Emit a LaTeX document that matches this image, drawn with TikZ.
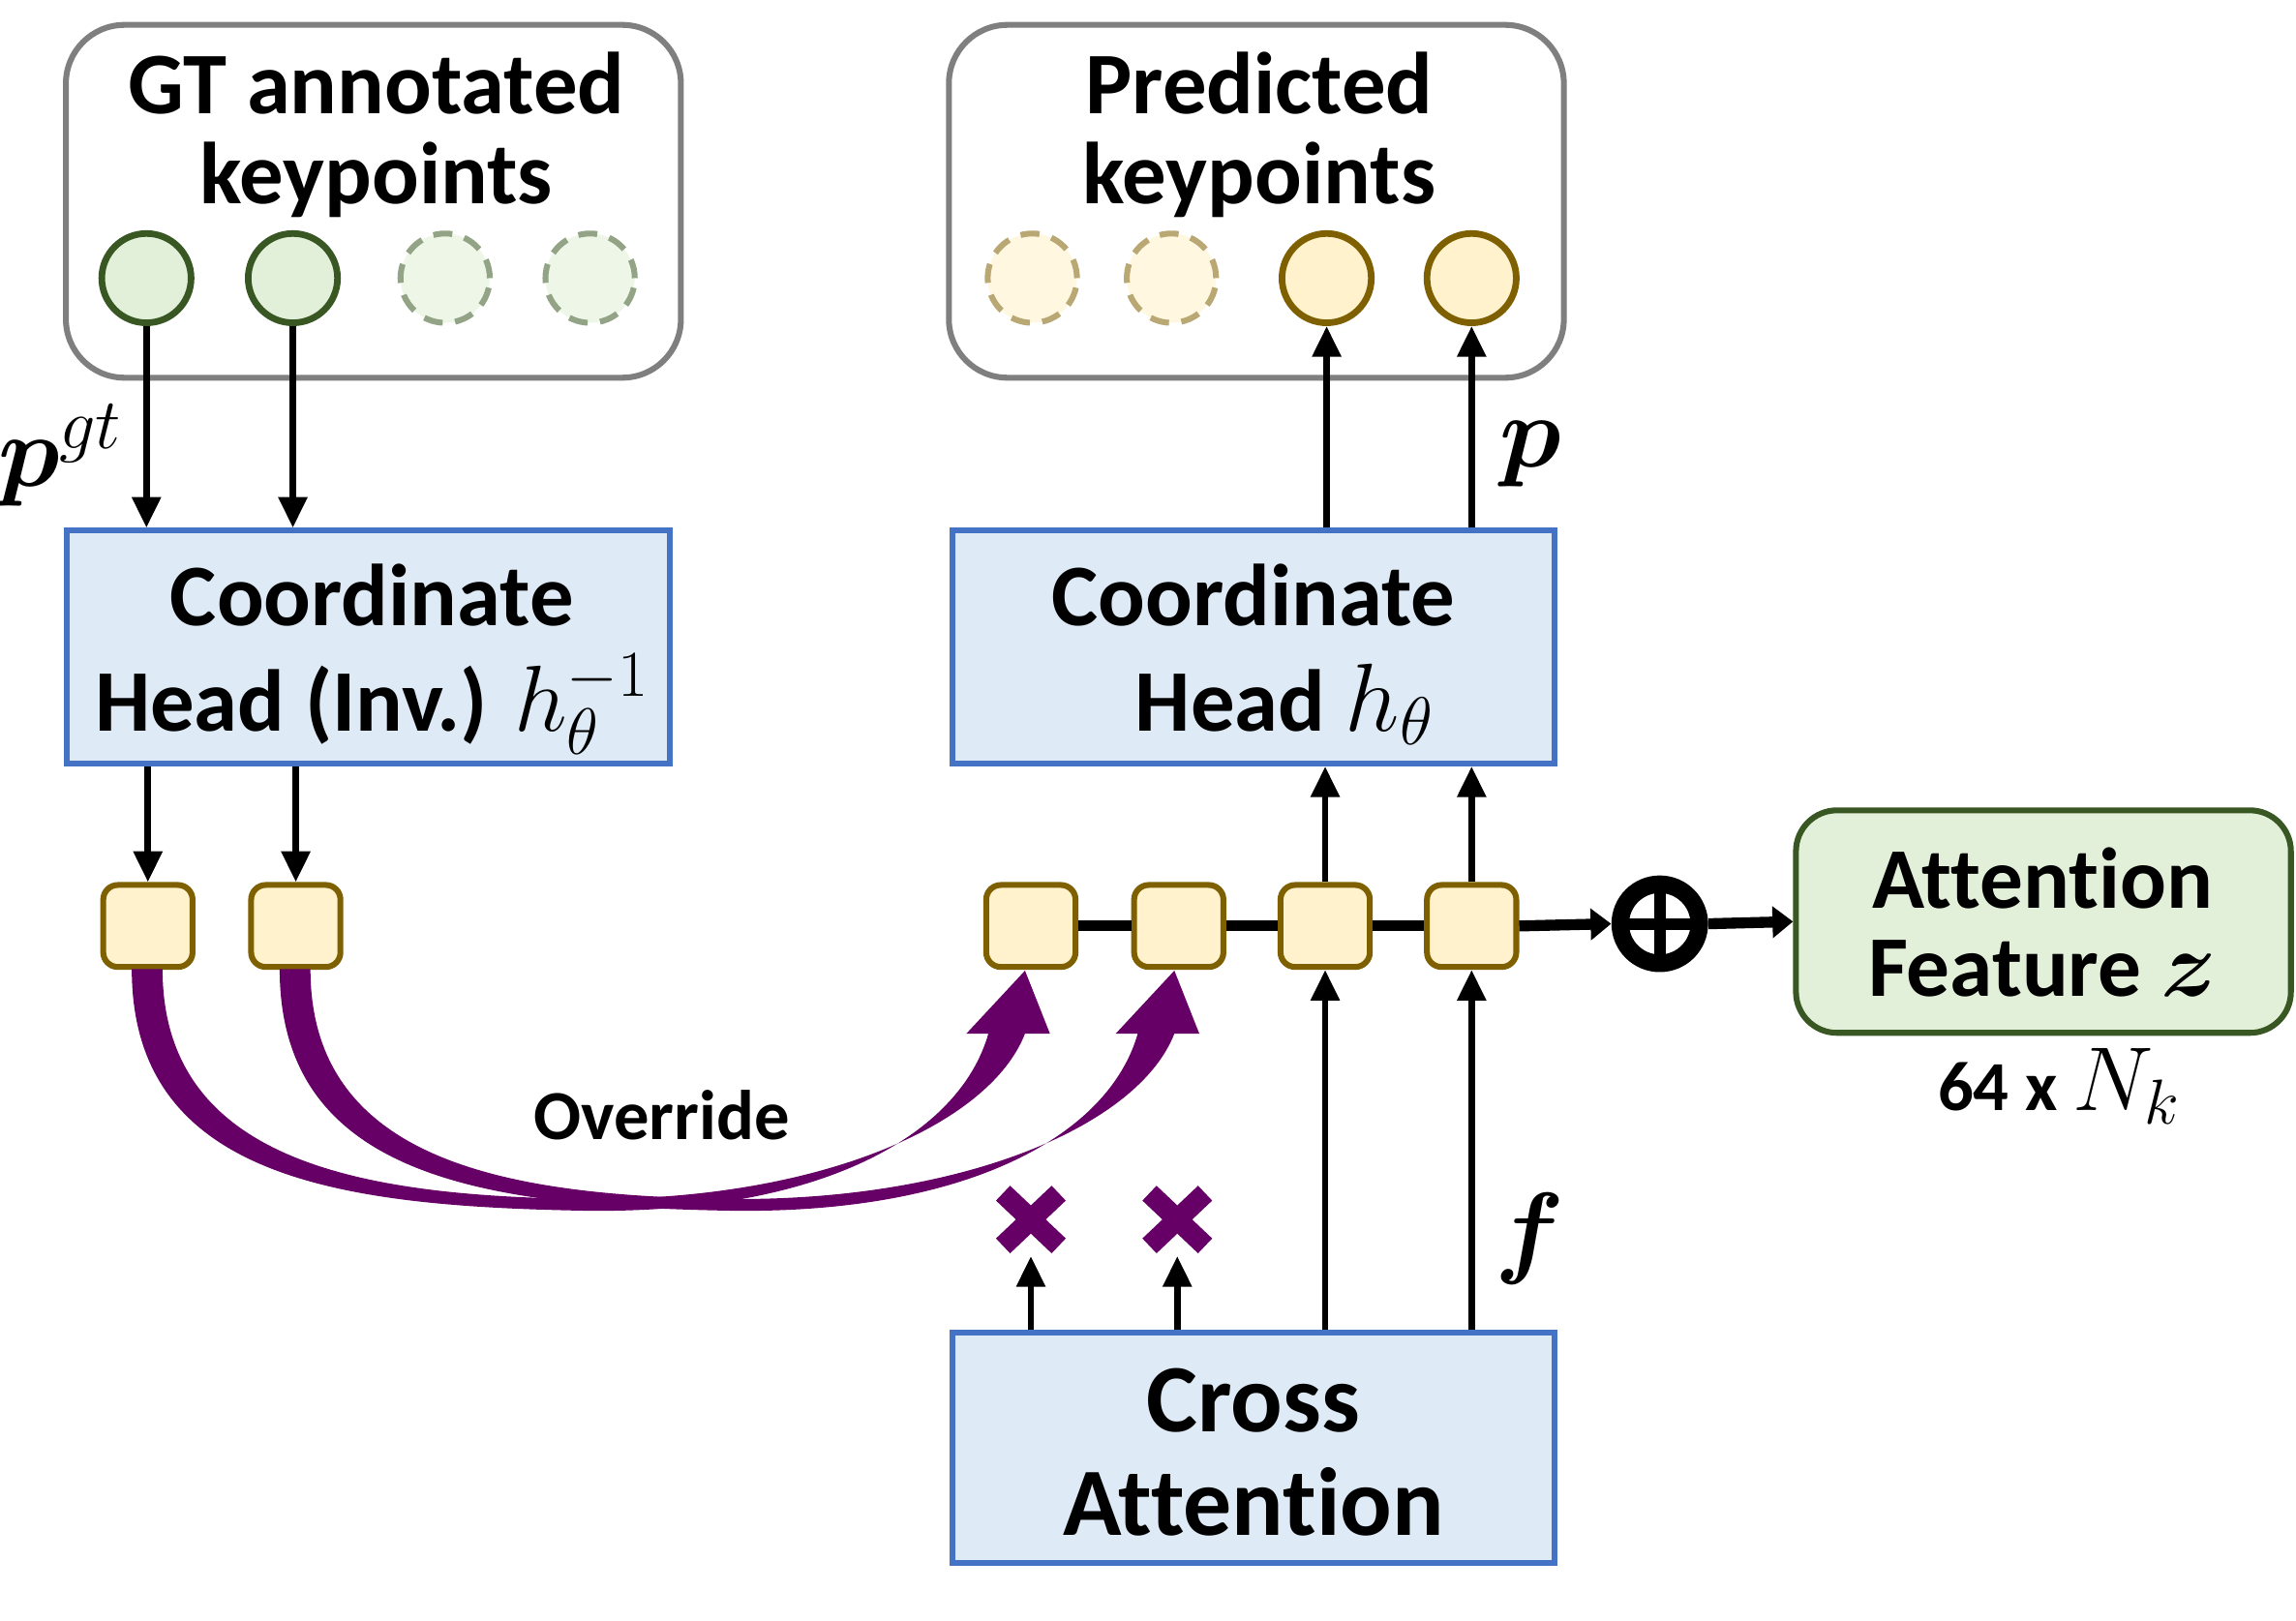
\RequirePackage{fix-cm}
\documentclass[tikz,border=0pt]{standalone}
\usepackage{amsmath,bm}
\usepackage{fontspec}
\setmainfont{Carlito}[Ligatures=NoCommon]
\usetikzlibrary{arrows.meta,calc}
\definecolor{gbord}{HTML}{7F7F7F}
\definecolor{bfill}{HTML}{DEEBF7}
\definecolor{bdraw}{HTML}{4472C4}
\definecolor{yfill}{HTML}{FFF2CC}
\definecolor{ydraw}{HTML}{7F6000}
\definecolor{gfill}{HTML}{E2F0D9}
\definecolor{gdraw}{HTML}{385723}
\definecolor{purp}{HTML}{660066}
\newcommand{\mth}[2]{{\fontsize{#1}{#1}\selectfont$#2$}}
\tikzset{
  frame/.style={draw=gbord, line width=4pt, rounded corners=40pt, minimum width=420pt, minimum height=241pt, inner sep=0pt},
  ttl/.style={font=\fontsize{60}{61}\selectfont\bfseries, align=center, inner sep=0pt},
  gk/.style={circle, draw=gdraw, fill=gfill, line width=4.5pt, minimum size=61pt, inner sep=0pt},
  gkd/.style={gk, draw=gdraw!55!white, fill=gfill!60!white, line width=4pt, dash pattern=on 13pt off 8.5pt},
  yk/.style={circle, draw=ydraw, fill=yfill, line width=4.5pt, minimum size=61pt, inner sep=0pt},
  ykd/.style={yk, draw=ydraw!55!white, fill=yfill!60!white, line width=4pt, dash pattern=on 13pt off 8.5pt},
  bbox/.style={draw=bdraw, fill=bfill, line width=4pt, inner sep=0pt},
  sq/.style={draw=ydraw, fill=yfill, line width=4pt, rounded corners=10pt, minimum width=61pt, minimum height=56pt, inner sep=0pt},
  abox/.style={draw=gdraw, fill=gfill, line width=4pt, rounded corners=28pt, minimum width=338pt, minimum height=152pt, inner sep=0pt},
  arr/.style={line width=4.5pt, -{Triangle[width=19pt,length=21pt]}},
  thk/.style={line width=7.5pt},
  thka/.style={line width=7.5pt, -{Triangle[width=21pt,length=14pt]}},
  xmark/.style={draw=purp, line width=14pt},
}
\begin{document}
\begin{tikzpicture}[x=1pt,y=-1pt]
\useasboundingbox[fill=white] (0,0) rectangle (1568,1107);
% keypoint frames
\node[frame] (gtf) at (255,137.5) {};
\node[frame] (prf) at (858,137.5) {};
\node[ttl] (gtt) at (257,92) {GT annotated\\keypoints};
\node[ttl] (prt) at (860,92) {Predicted\\keypoints};
\node[gk] (g1) at (100,190) {};
\node[gk] (g2) at (200,190) {};
\node[gkd] (g3) at (304,190) {};
\node[gkd] (g4) at (403,190) {};
\node[ykd] (y1) at (705,190) {};
\node[ykd] (y2) at (800,190) {};
\node[yk] (y3) at (906,190) {};
\node[yk] (y4) at (1005,190) {};
% boxes
\node[bbox, minimum width=412pt, minimum height=159pt] (inv) at (251.5,442) {};
\node[ttl] (invt) at (254,450) {Coordinate\\[11pt]Head (Inv.) \mth{64}{h_\theta^{-1}}};
\node[bbox, minimum width=411pt, minimum height=159pt] (hd) at (856,442) {};
\node[ttl] (hdt) at (856,447) {Coordinate\\[11pt]\hspace*{42pt}Head \mth{66}{h_\theta}};
\node[bbox, minimum width=411pt, minimum height=157pt] (ca) at (856,989) {};
\node[ttl, font=\fontsize{66}{71}\selectfont\bfseries] (cat) at (856,992) {Cross\\Attention};
\node[abox] (attn) at (1395.5,629.5) {};
\node[ttl, font=\fontsize{59}{60}\selectfont\bfseries] (attnt) at (1395,630) {Attention\\Feature \mth{64}{\bm{z}}};
\node[font=\fontsize{48}{48}\selectfont\bfseries, inner sep=0pt] (dim) at (1406,742) {64 x \mth{62}{N_k}};
% tokens
\node[sq] (l1) at (101,632.5) {};
\node[sq] (l2) at (202,632.5) {};
\node[sq] (r1) at (704,632.5) {};
\node[sq] (r2) at (805,632.5) {};
\node[sq] (r3) at (905,632.5) {};
\node[sq] (r4) at (1005,632.5) {};
\node[minimum size=66pt, inner sep=0pt, circle] (plus) at (1133.5,631) {};
% labels
\node[inner sep=0pt] (pgt) at (41,311) {\mth{70}{\bm{p}^{gt}}};
\node[inner sep=0pt] (plbl) at (1045,310) {\mth{70}{\bm{p}}};
\node[inner sep=0pt] (flbl) at (1045,846) {\mth{70}{\bm{f}}};
\node[font=\fontsize{48}{48}\selectfont\bfseries, inner sep=0pt] (ovr) at (452,762) {Override};
\coordinate (x1) at (704,833);
\coordinate (x2) at (804,833);
\coordinate (x1a) at (704,858);
\coordinate (x2a) at (804,858);
% black arrows
\draw[arr] (g1.south) -- (g1.south |- inv.north);
\draw[arr] (g2.south) -- (g2.south |- inv.north);
\draw[arr] (l1.north |- inv.south) -- (l1.north);
\draw[arr] (l2.north |- inv.south) -- (l2.north);
\draw[arr] (r3.north) -- (r3.north |- hd.south);
\draw[arr] (r4.north) -- (r4.north |- hd.south);
\draw[arr] (y3.south |- hd.north) -- (y3.south);
\draw[arr] (y4.south |- hd.north) -- (y4.south);
\draw[arr] (r3.south |- ca.north) -- (r3.south);
\draw[arr] (r4.south |- ca.north) -- (r4.south);
\draw[arr] (x1a |- ca.north) -- (x1a);
\draw[arr] (x2a |- ca.north) -- (x2a);
% token chain
\draw[thk] (r1.east) -- (r2.west) (r2.east) -- (r3.west) (r3.east) -- (r4.west);
\draw[thka] (r4.east) -- (plus.west);
\draw[thka] (plus.east) -- (attn.west);
\draw[line width=12pt] (plus.center) circle[radius=27pt];
\draw[line width=8pt] ($(plus.center)+(0,-27)$) -- ($(plus.center)+(0,27)$);
\draw[line width=8pt] ($(plus.center)+(-27,0)$) -- ($(plus.center)+(27,0)$);
% override arrows
\fill[purp] (90,662) .. controls (90,806) and (235,824) .. (400,827)
  .. controls (560,829) and (655,776) .. (675,706) -- (660,706) -- (700,663) -- (717,706) -- (700,706)
  .. controls (676,768) and (560,820) .. (400,819)
  .. controls (250,817) and (111,795) .. (111,662) -- cycle;
\fill[purp] (191,662) .. controls (191,806) and (335,824) .. (500,827)
  .. controls (660,829) and (757,776) .. (777,706) -- (762,706) -- (802,663) -- (819,706) -- (802,706)
  .. controls (778,768) and (660,820) .. (500,819)
  .. controls (350,817) and (212,795) .. (212,662) -- cycle;
% crosses
\foreach \c in {x1,x2}{
  \draw[xmark] ($(\c)+(-19,18)$) -- ($(\c)+(19,-18)$);
  \draw[xmark] ($(\c)+(19,18)$) -- ($(\c)+(-19,-18)$);
}
\end{tikzpicture}
\end{document}
